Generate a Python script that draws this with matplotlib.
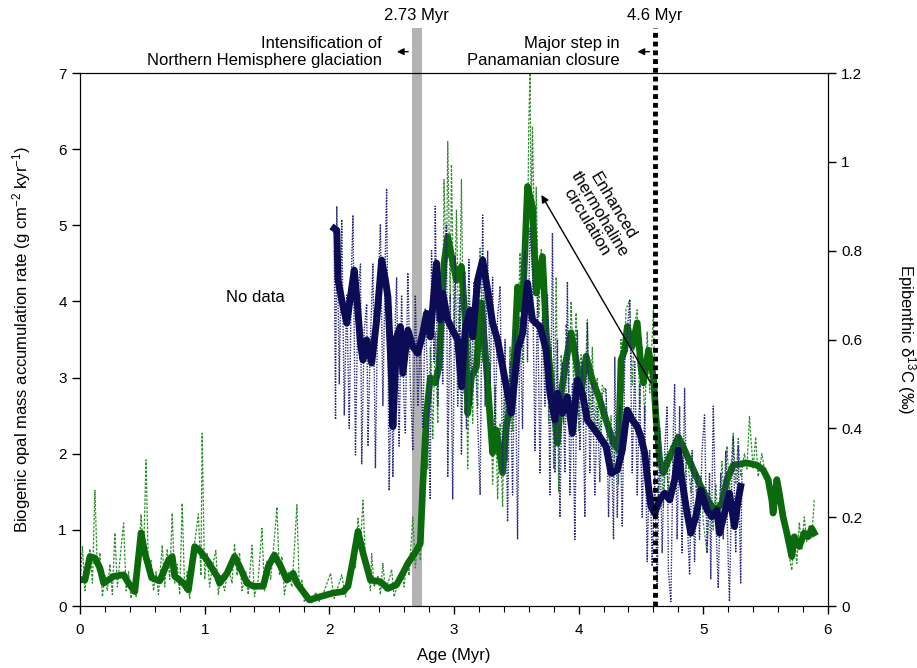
import matplotlib
matplotlib.use('Agg')
import matplotlib.pyplot as plt
from matplotlib.ticker import MultipleLocator, FuncFormatter

# Fonts: narrow sans like the original figure
plt.rcParams['font.family'] = ['Liberation Sans Narrow', 'Liberation Sans', 'DejaVu Sans']
plt.rcParams['mathtext.default'] = 'regular'

# --- Smoothed biogenic opal MAR (g cm-2 kyr-1) ---
opal_age = [0.00, 0.04, 0.08, 0.12, 0.16, 0.19, 0.27, 0.35, 0.39, 0.44, 0.49, 0.52, 0.575, 0.64,
            0.71, 0.74, 0.76, 0.83, 0.87, 0.92, 0.96, 1.02, 1.10, 1.12, 1.18, 1.24, 1.28, 1.34,
            1.39, 1.47, 1.51, 1.56, 1.61, 1.66, 1.71, 1.74, 1.79, 1.84, 1.92, 2.03, 2.11, 2.15,
            2.19, 2.23, 2.27, 2.33, 2.41, 2.47, 2.54, 2.59, 2.63, 2.70, 2.73, 2.75, 2.77, 2.78,
            2.81, 2.85, 2.88, 2.92, 2.95, 2.98, 3.02, 3.06, 3.09, 3.11, 3.14, 3.18, 3.22, 3.26,
            3.31, 3.34, 3.39, 3.42, 3.47, 3.51, 3.55, 3.59, 3.63, 3.66, 3.71, 3.74, 3.79, 3.83,
            3.86, 3.90, 3.94, 3.98, 4.02, 4.06, 4.11, 4.17, 4.22, 4.28, 4.32, 4.34, 4.37, 4.39,
            4.43, 4.47, 4.50, 4.52, 4.56, 4.60, 4.62, 4.65, 4.68, 4.72, 4.80, 4.85, 4.92, 4.98,
            5.05, 5.10, 5.15, 5.19, 5.24, 5.35, 5.43, 5.48, 5.52, 5.55, 5.56, 5.59, 5.61, 5.64,
            5.67, 5.71, 5.73, 5.77, 5.81, 5.84, 5.87, 5.89]
opal_mar = [0.35, 0.34, 0.65, 0.63, 0.50, 0.30, 0.39, 0.41, 0.30, 0.19, 0.96, 0.70, 0.37, 0.33,
            0.60, 0.65, 0.39, 0.30, 0.21, 0.78, 0.73, 0.60, 0.39, 0.30, 0.43, 0.65, 0.52, 0.30,
            0.26, 0.26, 0.52, 0.67, 0.52, 0.34, 0.43, 0.30, 0.19, 0.08, 0.12, 0.17, 0.19, 0.26,
            0.60, 0.98, 0.70, 0.34, 0.32, 0.23, 0.28, 0.43, 0.56, 0.73, 0.82, 1.57, 2.22, 2.53,
            3.00, 2.93, 3.14, 4.50, 4.85, 4.60, 4.28, 4.46, 3.76, 2.53, 3.01, 3.14, 3.98, 3.14,
            2.01, 2.31, 1.75, 2.36, 2.80, 4.19, 3.89, 5.51, 5.24, 4.11, 4.59, 3.59, 2.80, 2.14,
            2.80, 3.23, 3.59, 3.23, 2.80, 3.28, 2.97, 2.71, 2.44, 2.14, 2.05, 3.23, 3.36, 3.67,
            3.41, 3.72, 3.14, 2.93, 3.36, 3.01, 2.49, 1.92, 1.75, 1.92, 2.22, 2.05, 1.79, 1.57,
            1.35, 1.26, 1.35, 1.66, 1.85, 1.88, 1.85, 1.79, 1.66, 1.39, 1.22, 1.66, 1.48, 1.17,
            0.96, 0.65, 0.91, 0.78, 0.96, 0.91, 1.02, 0.96]

# --- Raw biogenic opal MAR ---
opal_raw_age = [0.00, 0.02, 0.04, 0.06, 0.08, 0.10, 0.12, 0.14, 0.16, 0.18, 0.20, 0.22, 0.24, 0.26,
                0.28, 0.30, 0.32, 0.35, 0.37, 0.39, 0.41, 0.43, 0.45, 0.47, 0.49, 0.51, 0.53, 0.55,
                0.57, 0.59, 0.61, 0.63, 0.66, 0.68, 0.70, 0.72, 0.74, 0.76, 0.78, 0.80, 0.82, 0.84,
                0.86, 0.88, 0.90, 0.93, 0.95, 0.97, 0.98, 1.00, 1.02, 1.04, 1.06, 1.09, 1.11, 1.13,
                1.16, 1.19, 1.22, 1.24, 1.26, 1.28, 1.30, 1.33, 1.35, 1.38, 1.40, 1.43, 1.46, 1.48,
                1.50, 1.53, 1.56, 1.58, 1.60, 1.62, 1.64, 1.67, 1.70, 1.72, 1.74, 1.76, 1.78, 1.80,
                1.83, 1.86, 1.89, 1.92, 1.96, 2.01, 2.04, 2.07, 2.10, 2.13, 2.16, 2.19, 2.21, 2.23,
                2.25, 2.27, 2.29, 2.31, 2.33, 2.34, 2.36, 2.39, 2.41, 2.43, 2.45, 2.48, 2.50, 2.52,
                2.55, 2.58, 2.60, 2.62, 2.64, 2.66, 2.67, 2.69, 2.71, 2.73, 2.75,
                2.77, 2.79, 2.81, 2.83, 2.85, 2.87, 2.89, 2.91, 2.92, 2.94, 2.95, 2.97, 2.98, 3.00,
                3.02, 3.04, 3.06, 3.08, 3.09, 3.11, 3.13, 3.15, 3.17, 3.19, 3.21, 3.23, 3.25, 3.27,
                3.29, 3.31, 3.33, 3.35, 3.37, 3.39, 3.41, 3.43, 3.45, 3.47, 3.49, 3.51, 3.53, 3.55,
                3.57, 3.59, 3.60, 3.61, 3.62, 3.63, 3.65, 3.66, 3.68, 3.70, 3.72, 3.74, 3.76, 3.78,
                3.80, 3.82, 3.84, 3.86, 3.88, 3.90, 3.92, 3.94, 3.96, 3.98, 4.00, 4.02, 4.04, 4.07,
                4.09, 4.11, 4.13, 4.15, 4.17, 4.19, 4.22, 4.24, 4.26, 4.28, 4.30, 4.32, 4.34, 4.36,
                4.38, 4.41, 4.43, 4.45, 4.47, 4.49, 4.51, 4.53, 4.55, 4.57, 4.60, 4.62, 4.64, 4.66,
                4.68, 4.70, 4.72, 4.74, 4.77, 4.79, 4.81, 4.83, 4.85, 4.87, 4.90, 4.92, 4.95, 4.98,
                5.00, 5.03, 5.05, 5.08, 5.10, 5.12, 5.15, 5.17, 5.19, 5.21, 5.24, 5.26, 5.28, 5.30,
                5.33, 5.35, 5.37, 5.40, 5.42, 5.44, 5.47, 5.50, 5.53, 5.56, 5.59, 5.62, 5.65, 5.68,
                5.70, 5.71, 5.73, 5.75, 5.77, 5.79, 5.81, 5.83, 5.85, 5.87, 5.89]
opal_raw = [0.25, 0.78, 0.20, 0.55, 0.75, 0.30, 1.52, 0.45, 0.70, 0.12, 0.40, 0.20, 0.55, 0.15,
            0.96, 0.25, 0.60, 1.09, 0.20, 0.45, 0.10, 0.35, 0.12, 0.55, 1.20, 0.65, 1.92, 0.40,
            0.60, 0.20, 0.45, 0.15, 0.80, 0.25, 0.75, 0.35, 1.22, 0.30, 0.55, 0.15, 1.35, 0.20,
            0.45, 0.10, 0.60, 0.95, 1.21, 0.40, 2.27, 0.35, 0.70, 0.25, 0.50, 0.73, 0.15, 0.40,
            0.20, 0.50, 0.30, 0.82, 0.40, 0.70, 0.20, 0.45, 0.15, 0.80, 0.12, 0.35, 1.02, 0.20,
            0.60, 0.35, 0.90, 1.30, 0.40, 0.65, 0.15, 0.45, 0.25, 0.75, 1.33, 0.20, 0.35, 0.05,
            0.15, 0.04, 0.18, 0.06, 0.20, 0.43, 0.10, 0.25, 0.41, 0.12, 0.35, 0.75, 0.50, 1.15,
            0.80, 1.39, 0.60, 0.45, 0.20, 0.69, 0.25, 0.40, 0.15, 0.56, 0.20, 0.35, 0.48, 0.12,
            0.30, 0.45, 0.25, 0.60, 0.40, 0.90, 1.17, 0.50, 0.85, 0.60, 1.40,
            2.60, 1.80, 3.40, 2.20, 3.60, 2.40, 4.20, 3.50, 5.60, 4.30, 6.10, 4.00, 5.80, 3.60,
            5.20, 3.30, 5.60, 2.80, 4.40, 1.80, 3.70, 2.40, 4.00, 2.60, 4.70, 3.20, 4.10, 2.50,
            3.20, 1.60, 2.90, 1.40, 2.40, 1.30, 3.00, 1.90, 3.40, 2.30, 4.00, 3.40, 4.64, 3.20,
            5.00, 4.60, 6.30, 7.00, 5.10, 6.30, 4.40, 5.50, 3.80, 4.68, 3.60, 4.20, 2.40, 3.40,
            1.80, 4.32, 1.50, 3.30, 2.40, 3.70, 2.80, 4.00, 2.90, 3.85, 2.30, 3.30, 2.40, 3.76,
            2.50, 3.40, 2.30, 3.00, 2.20, 2.90, 2.80, 1.90, 2.50, 1.70, 2.30, 1.60, 3.50, 2.80,
            3.90, 4.02, 2.90, 3.70, 3.89, 2.60, 3.40, 2.40, 3.60, 2.80, 3.89, 2.20, 1.40, 2.10,
            1.30, 2.00, 1.50, 2.10, 1.70, 2.27, 1.90, 2.20, 1.60, 2.00, 1.50, 1.90, 1.40, 1.70,
            1.10, 0.70, 1.50, 1.00, 1.60, 1.10, 1.90, 1.20, 2.10, 1.50, 2.27, 1.60, 2.20, 1.70,
            2.00, 1.80, 2.49, 1.80, 2.22, 1.70, 2.00, 1.70, 1.60, 1.20, 1.55, 1.40, 1.05, 0.80,
            0.55, 0.47, 0.95, 0.56, 1.10, 0.75, 1.17, 0.85, 1.05, 0.90, 1.39]

# --- Smoothed epibenthic d13C (permil) ---
d13c_age = [2.04, 2.06, 2.07, 2.10, 2.14, 2.17, 2.20, 2.22, 2.25, 2.27, 2.30, 2.34, 2.38, 2.42,
            2.45, 2.47, 2.50, 2.51, 2.54, 2.57, 2.59, 2.63, 2.67, 2.71, 2.75, 2.78, 2.81, 2.83,
            2.86, 2.89, 2.91, 2.95, 2.99, 3.03, 3.06, 3.09, 3.13, 3.15, 3.19, 3.23, 3.27, 3.31,
            3.35, 3.39, 3.42, 3.46, 3.51, 3.55, 3.59, 3.63, 3.69, 3.74, 3.77, 3.81, 3.83, 3.87,
            3.91, 3.95, 3.99, 4.03, 4.07, 4.11, 4.17, 4.22, 4.26, 4.31, 4.35, 4.39, 4.43, 4.47,
            4.50, 4.53, 4.56, 4.58, 4.61, 4.65, 4.69, 4.73, 4.77, 4.80, 4.82, 4.87, 4.90, 4.94,
            4.98, 5.03, 5.07, 5.11, 5.13, 5.17, 5.21, 5.25, 5.28, 5.30]
d13c = [0.85, 0.846, 0.734, 0.689, 0.637, 0.696, 0.756, 0.696, 0.592, 0.554, 0.599, 0.547,
        0.644, 0.779, 0.734, 0.696, 0.509, 0.404, 0.606, 0.629, 0.524, 0.621, 0.584, 0.569,
        0.614, 0.659, 0.606, 0.674, 0.772, 0.644, 0.704, 0.644, 0.621, 0.599, 0.494, 0.621,
        0.666, 0.606, 0.734, 0.779, 0.711, 0.637, 0.599, 0.539, 0.494, 0.434, 0.576, 0.614,
        0.727, 0.644, 0.629, 0.576, 0.479, 0.419, 0.479, 0.434, 0.471, 0.389, 0.509, 0.479,
        0.419, 0.404, 0.381, 0.359, 0.299, 0.306, 0.351, 0.441, 0.419, 0.404, 0.380, 0.344,
        0.269, 0.224, 0.209, 0.239, 0.254, 0.239, 0.284, 0.351, 0.299, 0.209, 0.164, 0.201,
        0.261, 0.216, 0.201, 0.216, 0.164, 0.209, 0.254, 0.179, 0.239, 0.269]

# --- Raw epibenthic d13C ---
d13c_raw_age = [2.04, 2.05, 2.06, 2.08, 2.10, 2.12, 2.14, 2.16, 2.18, 2.19, 2.21, 2.23, 2.25, 2.26,
                2.28, 2.30, 2.31, 2.33, 2.35, 2.37, 2.39, 2.41, 2.43, 2.45, 2.46, 2.48, 2.50, 2.51,
                2.53, 2.54, 2.56, 2.58, 2.60, 2.61, 2.63, 2.65, 2.67, 2.69, 2.71, 2.73, 2.75, 2.77,
                2.79, 2.81, 2.82, 2.84, 2.85, 2.87, 2.89, 2.91, 2.94, 2.95, 2.97, 2.99, 3.01, 3.03,
                3.05, 3.06, 3.08, 3.10, 3.12, 3.14, 3.16, 3.18, 3.21, 3.23, 3.25, 3.27, 3.29, 3.31,
                3.33, 3.35, 3.37, 3.39, 3.41, 3.43, 3.45, 3.47, 3.49, 3.51, 3.53, 3.55, 3.57, 3.59,
                3.61, 3.63, 3.65, 3.67, 3.69, 3.71, 3.73, 3.75, 3.77, 3.79, 3.81, 3.83, 3.85, 3.87,
                3.89, 3.91, 3.93, 3.95, 3.97, 3.99, 4.01, 4.03, 4.05, 4.07, 4.09, 4.11, 4.13, 4.15,
                4.17, 4.19, 4.22, 4.24, 4.26, 4.28, 4.29, 4.31, 4.33, 4.35, 4.37, 4.39, 4.41, 4.43,
                4.45, 4.47, 4.49, 4.51, 4.53, 4.55, 4.57, 4.59, 4.61, 4.63, 4.65, 4.67, 4.69, 4.71,
                4.72, 4.74, 4.76, 4.77, 4.79, 4.81, 4.83, 4.85, 4.87, 4.89, 4.91, 4.93, 4.95, 4.97,
                4.99, 5.01, 5.03, 5.05, 5.06, 5.08, 5.10, 5.12, 5.14, 5.16, 5.18, 5.20, 5.21, 5.23,
                5.24, 5.26, 5.28, 5.30, 5.31]
d13c_raw = [0.80, 0.42, 0.90, 0.50, 0.87, 0.43, 0.70, 0.40, 0.78, 0.88, 0.34, 0.70, 0.77, 0.32,
            0.62, 0.68, 0.36, 0.60, 0.77, 0.31, 0.70, 0.86, 0.45, 0.80, 0.94, 0.26, 0.55, 0.29,
            0.65, 0.74, 0.36, 0.70, 0.45, 0.39, 0.75, 0.50, 0.35, 0.70, 0.45, 0.60, 0.40, 0.67,
            0.50, 0.24, 0.80, 0.55, 0.90, 0.45, 0.75, 0.50, 0.86, 0.29, 0.70, 0.24, 0.79, 0.45,
            0.70, 0.34, 0.75, 0.40, 0.78, 0.45, 0.73, 0.50, 0.25, 0.88, 0.45, 0.80, 0.50, 0.74,
            0.40, 0.65, 0.72, 0.30, 0.60, 0.19, 0.55, 0.25, 0.62, 0.15, 0.65, 0.40, 0.80, 0.55,
            0.85, 0.75, 0.35, 0.70, 0.30, 0.65, 0.45, 0.70, 0.25, 0.84, 0.30, 0.60, 0.20, 0.55,
            0.30, 0.73, 0.25, 0.50, 0.15, 0.62, 0.35, 0.55, 0.20, 0.64, 0.30, 0.50, 0.25, 0.45,
            0.28, 0.48, 0.49, 0.20, 0.40, 0.15, 0.56, 0.20, 0.45, 0.18, 0.55, 0.62, 0.69, 0.30,
            0.55, 0.25, 0.50, 0.20, 0.45, 0.10, 0.35, 0.09, 0.30, 0.05, 0.40, 0.12, 0.35, 0.45,
            0.08, 0.01, 0.40, 0.50, 0.15, 0.45, 0.12, 0.49, 0.20, 0.07, 0.35, 0.10, 0.30, 0.15,
            0.35, 0.43, 0.12, 0.30, 0.06, 0.45, 0.20, 0.04, 0.30, 0.15, 0.35, 0.10, 0.01, 0.30,
            0.38, 0.12, 0.36, 0.05, 0.30]

green_thick = '#0b6a0b'
green_thin = '#2f8f2f'
navy_thick = '#0c0c56'
navy_thin = '#25257e'

fig = plt.figure(figsize=(9.17, 6.68), dpi=100)
ax = fig.add_axes([0.0872, 0.0928, 0.8157, 0.7979])
ax2 = ax.twinx()

# Gray band: intensification of NHG
ax.axvspan(2.665, 2.74, ymin=0, ymax=1.085, color='#b3b3b3', lw=0, zorder=0, clip_on=False)

ax.plot(opal_raw_age, opal_raw, color=green_thin, lw=0.9, ls=(0, (2, 1.2)), zorder=2)
ax.plot(opal_age, opal_mar, color=green_thick, lw=4.8, zorder=3)

ax2.plot(d13c_raw_age, d13c_raw, color=navy_thin, lw=1.0, ls=(0, (1, 1)), zorder=2)
ax2.plot(d13c_age, d13c, color=navy_thick, lw=5.0, zorder=3)

# 4.6 Myr dotted line (Panama)
ax2.axvline(4.61, ymin=0, ymax=1.085, color='black', lw=3.5, ls=(0, (1, 0.8)),
            clip_on=False, zorder=5)

ax.set_xlim(0, 6)
ax.set_ylim(0, 7)
ax2.set_ylim(0, 1.2)

ax.xaxis.set_major_locator(MultipleLocator(1))
ax.xaxis.set_minor_locator(MultipleLocator(0.2))
ax.yaxis.set_major_locator(MultipleLocator(1))
ax2.yaxis.set_major_locator(MultipleLocator(0.2))
ax2.yaxis.set_major_formatter(FuncFormatter(lambda v, p: '%g' % round(v, 1)))

ax.tick_params(axis='x', which='major', direction='out', length=6, width=1, labelsize=11, pad=6)
ax.tick_params(axis='x', which='minor', direction='out', length=4, width=0.8)
ax.tick_params(axis='y', direction='out', length=6, width=1, labelsize=11)
ax2.tick_params(axis='y', direction='out', length=6, width=1, labelsize=11)

ax.set_xlabel('Age (Myr)', fontsize=12, labelpad=8)
ax.set_ylabel('Biogenic opal mass accumulation rate (g cm$^{-2}$ kyr$^{-1}$)', fontsize=12, labelpad=18)
ax2.set_ylabel('Epibenthic δ$^{13}$C (‰)', fontsize=12, rotation=-90, labelpad=40)

# Annotations above the axes
tr = ax.get_xaxis_transform()
ax.text(2.70, 1.108, '2.73 Myr', transform=tr, ha='center', va='center', fontsize=12)
ax.text(4.61, 1.108, '4.6 Myr', transform=tr, ha='center', va='center', fontsize=12)
ax.text(2.42, 1.040, 'Intensification of\nNorthern Hemisphere glaciation', transform=tr,
        ha='right', va='center', multialignment='right', fontsize=12, linespacing=1.15)
ax.text(4.33, 1.040, 'Major step in\nPanamanian closure', transform=tr,
        ha='right', va='center', multialignment='right', fontsize=12, linespacing=1.15)
ax.annotate('', xy=(2.52, 1.040), xytext=(2.655, 1.040), xycoords=tr, textcoords=tr,
            arrowprops=dict(arrowstyle='-|>', color='black', lw=1, mutation_scale=10))
ax.annotate('', xy=(4.45, 1.040), xytext=(4.59, 1.040), xycoords=tr, textcoords=tr,
            arrowprops=dict(arrowstyle='-|>', color='black', lw=1, mutation_scale=10))

ax.text(1.41, 4.05, 'No data', ha='center', va='center', fontsize=12)

# Enhanced thermohaline circulation arrow
ax.annotate('', xy=(3.69, 5.43), xytext=(4.59, 2.90),
            arrowprops=dict(arrowstyle='-|>', color='black', lw=1, mutation_scale=11), zorder=6)
ax.text(4.17, 5.15, 'Enhanced\nthermohaline\ncirculation', rotation=-59, ha='center',
        va='center', fontsize=12, linespacing=1.05, rotation_mode='anchor')

fig.savefig('out.png', dpi=100)
